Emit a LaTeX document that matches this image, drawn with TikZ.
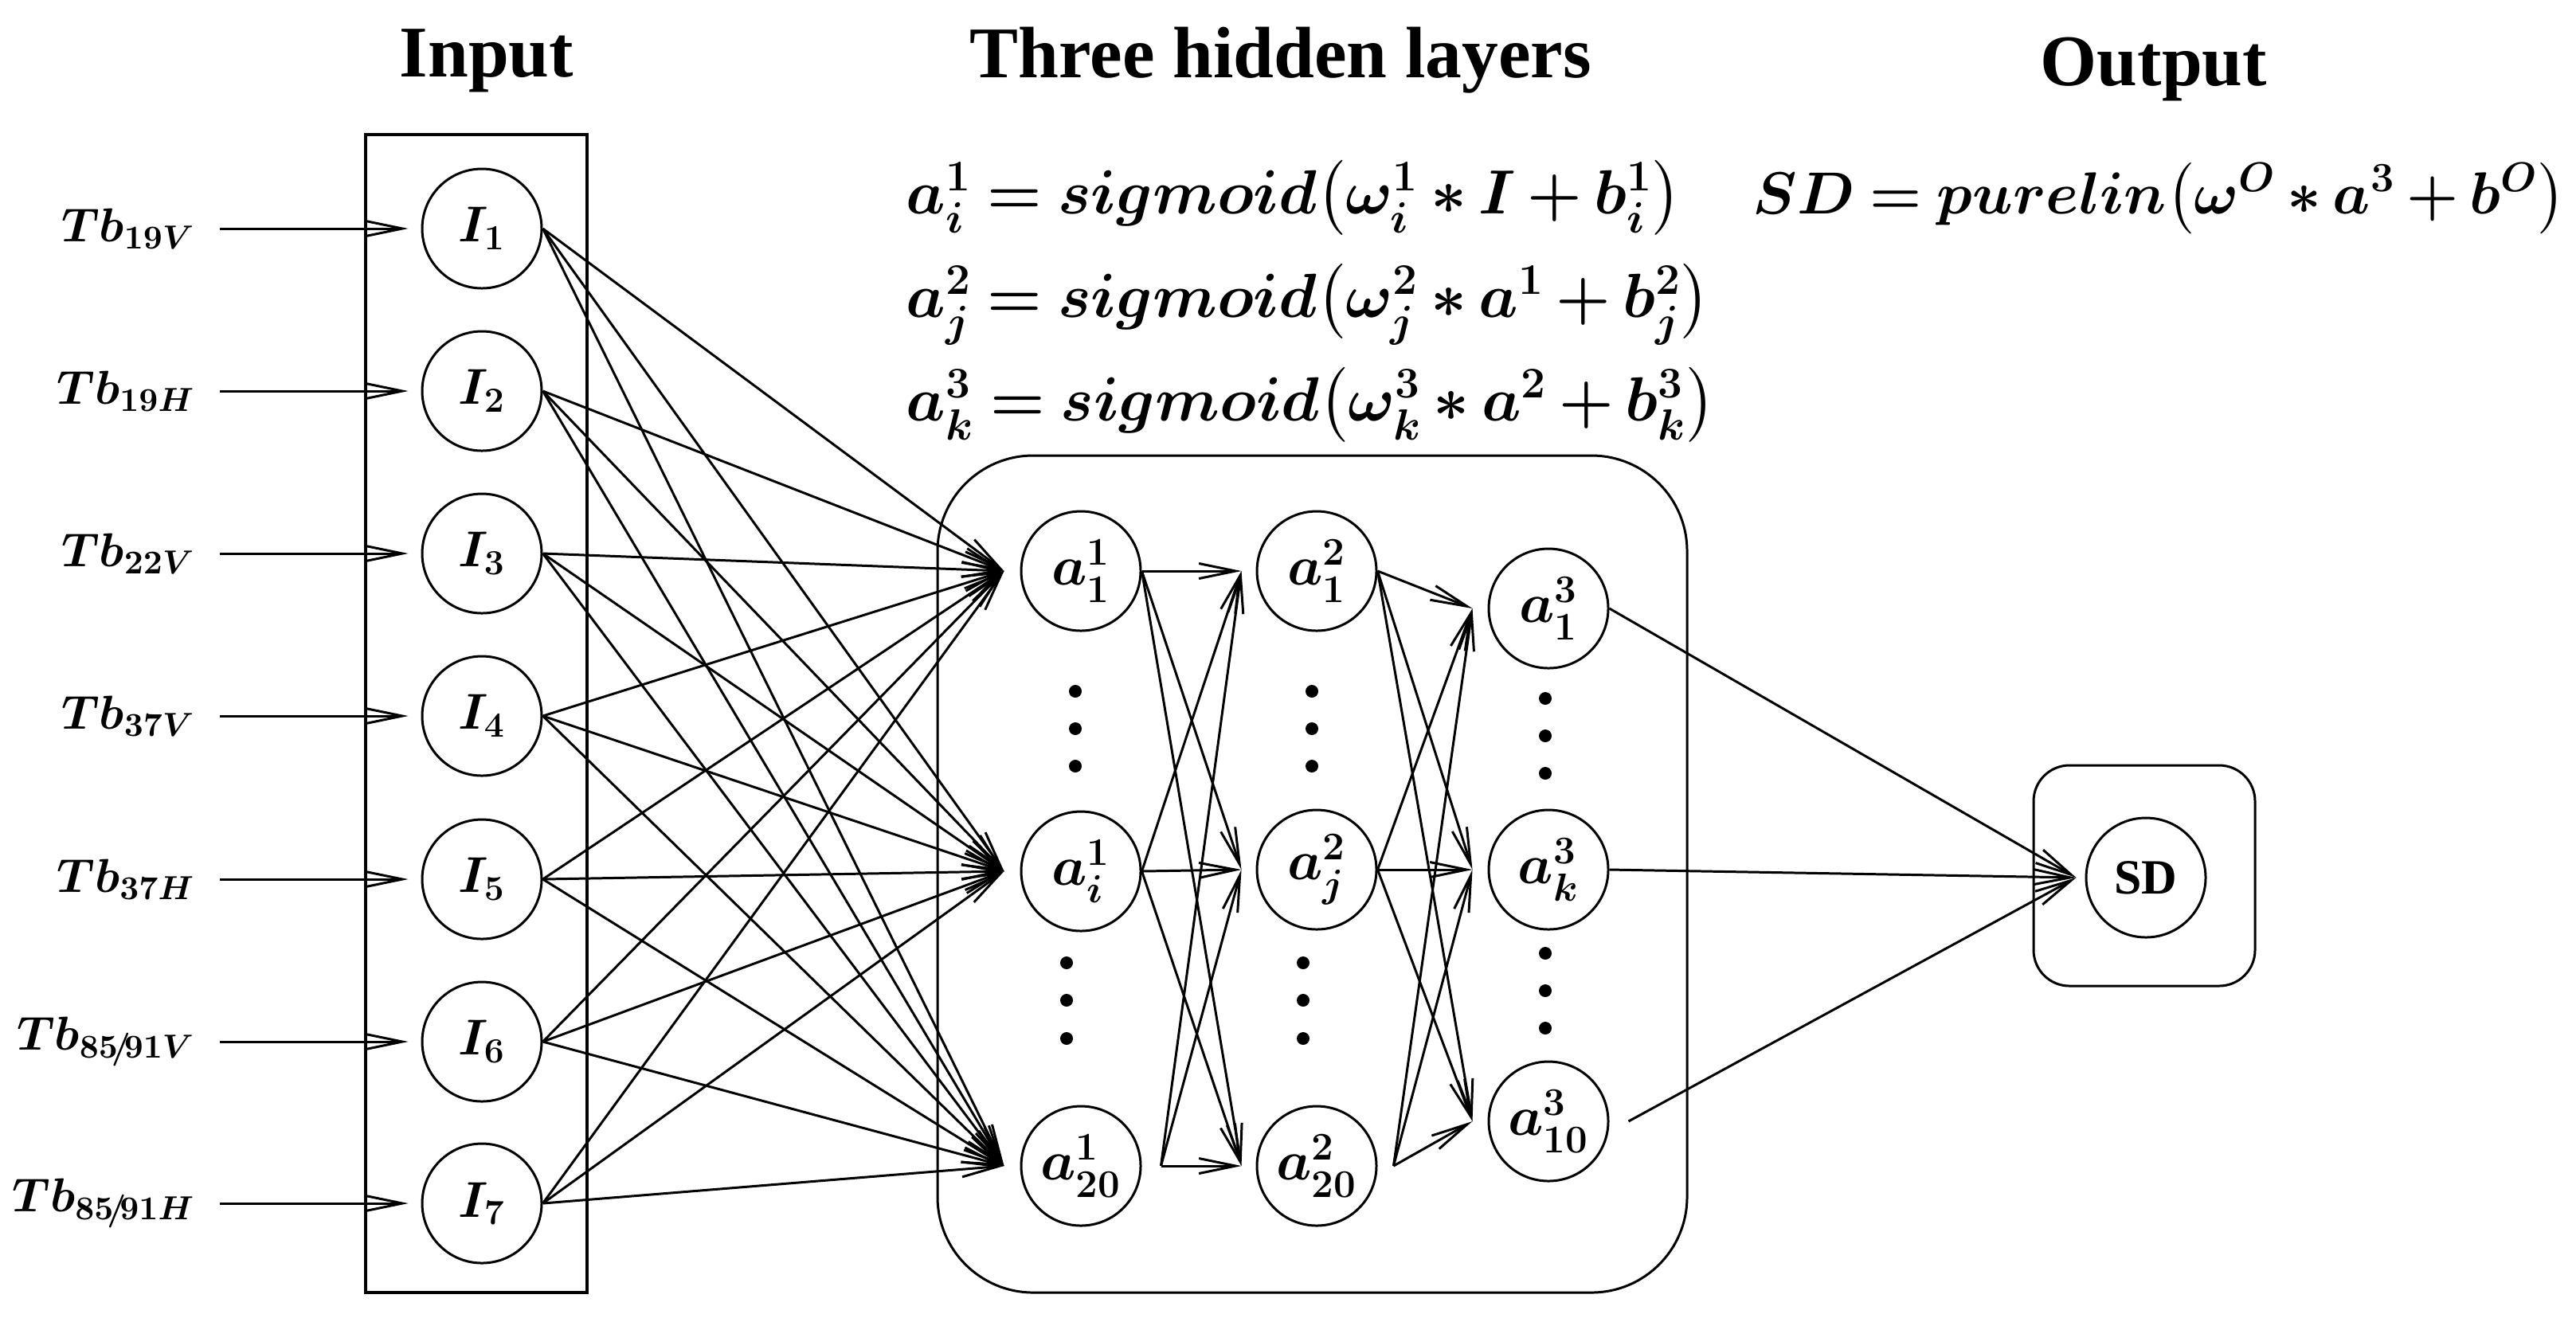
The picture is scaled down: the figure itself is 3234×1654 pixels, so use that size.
\RequirePackage{fix-cm}
\documentclass[tikz,border=0pt]{standalone}
\usepackage{amsmath,amssymb}
\usepackage[no-math]{fontspec}
\setmainfont{Liberation Serif}
\usepackage{tikz}
\usetikzlibrary{arrows.meta,positioning}
\tikzset{>={Straight Barb[length=4.6mm,width=1.9mm]}}
\tikzset{
  neuron/.style={draw,circle,minimum size=15mm,inner sep=0pt},
  title/.style={font=\fontsize{26}{30}\selectfont\bfseries,anchor=base},
  eqn/.style={font=\fontsize{22.3}{26}\selectfont,anchor=base west,inner sep=0pt,
              execute at begin node={\thickmuskip=4mu\relax\medmuskip=3mu\relax}},
}

\begin{document}
\begin{tikzpicture}[x=0.1mm,y=-0.1mm,line width=0.85pt]
    \useasboundingbox (0,0) rectangle (3234,1654);

    % titles
    \node[title] (tIn) at (611,96) {Input};
    \node[title] (tHid) at (1608,97) {Three hidden layers};
    \node[title] (tOut) at (2704,107) {Output};

    % formulas
    \node[eqn] (eq1) at (1136,268) {$\boldsymbol{a_i^1 = sigmoid\bigl(\omega_i^1 \ast I + b_i^1\bigr)}$};
    \node[eqn] (eq2) at (1136,398) {$\boldsymbol{a_j^2 = sigmoid\bigl(\omega_j^2 \ast a^1 + b_j^2\bigr)}$};
    \node[eqn] (eq3) at (1136,528) {$\boldsymbol{a_k^3 = sigmoid\bigl(\omega_k^3 \ast a^2 + b_k^3\bigr)}$};
    \node[eqn,font=\fontsize{21.2}{26}\selectfont] (eqO) at (2199,268) {$\boldsymbol{SD = purelin\bigl(\omega^O \ast a^3 + b^O\bigr)}$};

    % frames
    \draw[line width=1.1pt] (459,169) rectangle (737,1623);
    \draw[rounded corners=12mm] (1177,572) rectangle (2118,1623);
    \draw[rounded corners=4.5mm] (2553,961) rectangle (2831,1238);

    % input layer
    \foreach \n/\y/\lab in {1/287/19V, 2/491/19H, 3/695/22V, 4/899/37V,
                            5/1104/37H, 6/1308/{85\!/\!91V}, 7/1511/{85\!/\!91H}} {
        \node[neuron,font=\fontsize{18}{22}\selectfont] (I\n) at (605,\y) {$\boldsymbol{I_{\n}}$};
        \node[font=\fontsize{17}{21}\selectfont,anchor=east] (tb\n) at (258,\y) {$\boldsymbol{Tb_{\lab}}$};
        \coordinate (s\n) at (276,\y);
        \draw[->] (s\n) -- ([xshift=-1.6mm]I\n.west);
    }

    % hidden layers
    \begin{scope}[every node/.style={neuron,font=\fontsize{20}{24}\selectfont}]
        \node (h1t) at (1357,717) {$\boldsymbol{a_1^1}$};
        \node (h1m) at (1357,1094) {$\boldsymbol{a_i^1}$};
        \node (h1b) at (1357,1464) {$\boldsymbol{a_{20}^1}$};
        \node (h2t) at (1653,717) {$\boldsymbol{a_1^2}$};
        \node (h2m) at (1653,1092) {$\boldsymbol{a_j^2}$};
        \node (h2b) at (1653,1464) {$\boldsymbol{a_{20}^2}$};
        \node (h3t) at (1944,764) {$\boldsymbol{a_1^3}$};
        \node (h3m) at (1944,1092) {$\boldsymbol{a_k^3}$};
        \node (h3b) at (1944,1408) {$\boldsymbol{a_{10}^3}$};
    \end{scope}

    % output
    \node[neuron,font=\fontsize{17.6}{21}\selectfont\bfseries] (sd) at (2694,1102) {SD};

    % dots
    \foreach \x/\y in {1350/868, 1350/915, 1350/962, 1339/1209, 1339/1256, 1339/1304,
                       1647/868, 1647/915, 1647/962, 1636/1209, 1636/1256, 1636/1304,
                       1940/877, 1940/924, 1940/971, 1940/1197, 1940/1244, 1940/1291}
        \fill (\x,\y) circle (0.8mm);

    % connections
    \foreach \n in {1,...,7}
        \foreach \h in {h1t,h1m,h1b}
            \draw[->] (I\n.east) -- ([xshift=-2mm]\h.west);
    \foreach \h in {h2t,h2m,h2b} {
        \draw[->] (h1t.east) -- ([xshift=-1.8mm]\h.west);
        \draw[->] (h1m.east) -- ([xshift=-1.8mm]\h.west);
        \draw[->] ([xshift=2.4mm]h1b.east) -- ([xshift=-1.8mm]\h.west);
    }
    \foreach \h in {h3t,h3m,h3b} {
        \draw[->] (h2t.east) -- ([xshift=-1.9mm]\h.west);
        \draw[->] (h2m.east) -- ([xshift=-1.9mm]\h.west);
        \draw[->] ([xshift=2mm]h2b.east) -- ([xshift=-1.9mm]\h.west);
    }
    \draw[->] (h3t.east) -- ([xshift=-1.1mm]sd.west);
    \draw[->] (h3m.east) -- ([xshift=-1.1mm]sd.west);
    \draw[->] ([xshift=2.4mm]h3b.east) -- ([xshift=-1.1mm]sd.west);
\end{tikzpicture}
\end{document}
